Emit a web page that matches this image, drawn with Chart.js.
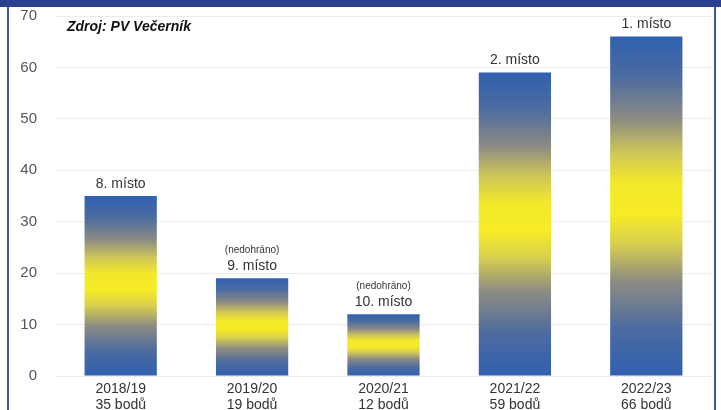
<!DOCTYPE html>
<html>
<head>
<meta charset="utf-8">
<script src="https://cdn.jsdelivr.net/npm/chart.js@4"></script>
<style>
    html, body { margin: 0; padding: 0; background: #fff; }
    #wrap { position: relative; width: 721px; height: 410px; overflow: hidden; }
    #bar { position: absolute; left: 0; top: 0; width: 721px; height: 7px; background: #2a4190; }
    #lb { position: absolute; left: 7px; top: 7px; width: 2px; height: 403px; background: #3a5a9a; }
    #rb { position: absolute; left: 714px; top: 7px; width: 2px; height: 403px; background: #3a5a9a; }
    canvas { position: absolute; left: 0; top: 0; }
</style>
</head>
<body>
<div id="wrap">
    <canvas id="chart" width="721" height="410"></canvas>
    <div id="bar"></div>
    <div id="lb"></div>
    <div id="rb"></div>
</div>
<script>
// Data
const seasons = ["2018/19", "2019/20", "2020/21", "2021/22", "2022/23"];
const points = [35, 19, 12, 59, 66];
const places = ["8. místo", "9. místo", "10. místo", "2. místo", "1. místo"];
const notes = ["", "(nedohráno)", "(nedohráno)", "", ""];
const yTicks = [0, 10, 20, 30, 40, 50, 60, 70];

const FONT = "'Liberation Sans', Arial, sans-serif";

// Blue - grey - yellow - grey - blue fill for each bar
const barFill = (ctx) => {
    const chart = ctx.chart;
    if (!chart.chartArea || ctx.dataIndex === undefined) return "#3460ad";
    const y = chart.scales.y;
    const top = y.getPixelForValue(points[ctx.dataIndex]);
    const bottom = y.getPixelForValue(0);
    const g = chart.ctx.createLinearGradient(0, top, 0, bottom);
    g.addColorStop(0, "#3060b0");
    g.addColorStop(0.12, "#4d6ca0");
    g.addColorStop(0.24, "#8a8a84");
    g.addColorStop(0.34, "#cdc55a");
    g.addColorStop(0.43, "#f3e82a");
    g.addColorStop(0.52, "#f7ec25");
    g.addColorStop(0.61, "#d8cf4e");
    g.addColorStop(0.72, "#8e8c82");
    g.addColorStop(0.86, "#4d6ba0");
    g.addColorStop(1, "#3060b0");
    return g;
};

// Text above bars and the source note
const labelsPlugin = {
    id: "labels",
    afterDatasetsDraw(chart) {
        const ctx = chart.ctx;
        const meta = chart.getDatasetMeta(0);
        ctx.save();
        ctx.textAlign = "center";
        ctx.textBaseline = "middle";
        meta.data.forEach((bar, i) => {
            ctx.fillStyle = "#333";
            ctx.font = "14px " + FONT;
            ctx.fillText(places[i], bar.x, bar.y - 12);
            if (notes[i]) {
                ctx.font = "10px " + FONT;
                ctx.fillText(notes[i], bar.x, bar.y - 28);
            }
        });
        ctx.textAlign = "left";
        ctx.fillStyle = "#111";
        ctx.font = "italic bold 14px " + FONT;
        ctx.fillText("Zdroj: PV Večerník", 67, 27);
        ctx.restore();
    },
};

new Chart(document.getElementById("chart"), {
    type: "bar",
    data: {
        labels: seasons.map((s, i) => [s, points[i] + " bodů"]),
        datasets: [{
            data: points,
            backgroundColor: barFill,
            borderWidth: 0,
            categoryPercentage: 0.55,
            barPercentage: 1,
        }],
    },
    options: {
        responsive: false,
        animation: false,
        layout: { padding: { left: 5, right: 9, top: 16, bottom: 0 } },
        plugins: { legend: { display: false }, tooltip: { enabled: false } },
        scales: {
            x: {
                grid: { display: false, drawTicks: false },
                border: { display: false },
                ticks: {
                    color: "#333",
                    font: { family: FONT, size: 14, lineHeight: 1.08 },
                    padding: 6,
                    maxRotation: 0,
                },
                afterFit: (s) => { s.height = 34; },
            },
            y: {
                min: 0,
                max: 70,
                afterBuildTicks: (s) => { s.ticks = yTicks.map((v) => ({ value: v })); },
                grid: { color: "#ececec", drawTicks: false },
                border: { display: false },
                ticks: {
                    color: "#555",
                    font: { family: FONT, size: 15 },
                    padding: 18,
                },
                afterFit: (s) => {
                    s.width = 50;
                    s.paddingTop = 0;
                    s.paddingBottom = 0;
                },
            },
        },
    },
    plugins: [labelsPlugin],
});
</script>
</body>
</html>
